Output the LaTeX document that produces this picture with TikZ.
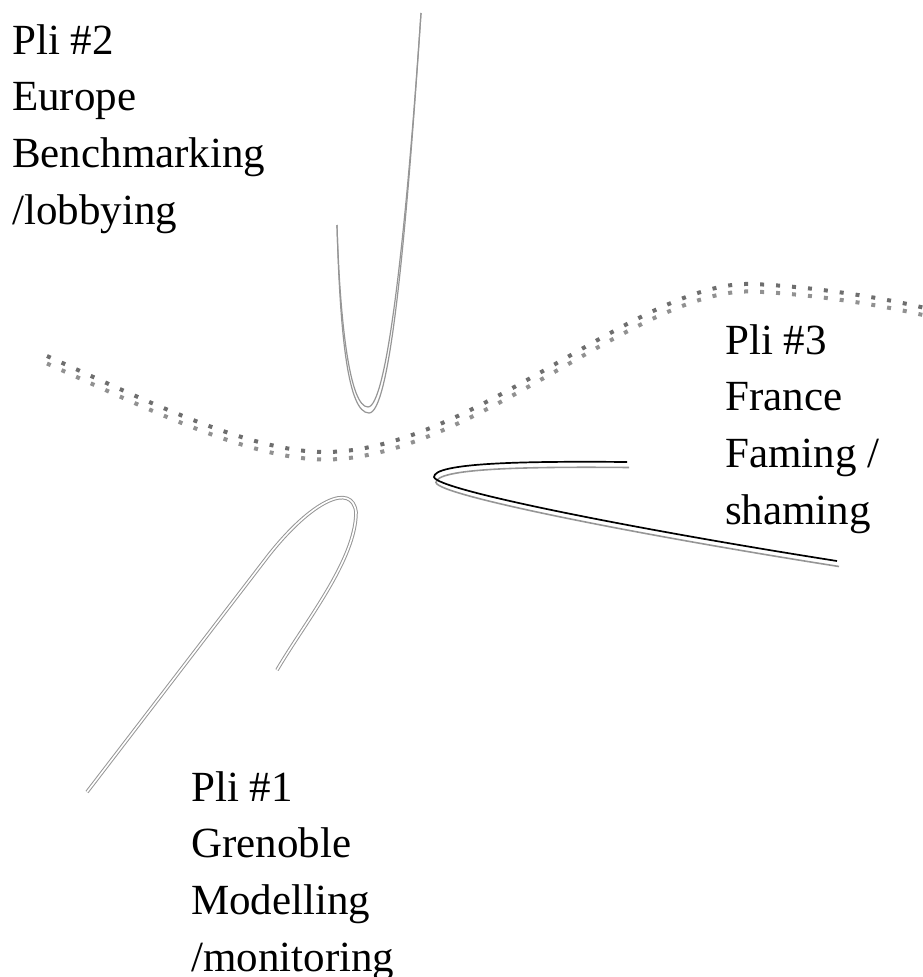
\documentclass[tikz,border=0pt]{standalone}
\usepackage{fontspec}
\setmainfont{Liberation Serif}
\usetikzlibrary{positioning}
\definecolor{foldgray}{RGB}{150,150,150}
\definecolor{wavedark}{RGB}{110,110,110}
\definecolor{wavelight}{RGB}{145,145,145}
\tikzset{
    plilabel/.style={anchor=north west, inner sep=0pt, align=left, font=\fontsize{43}{56.7}\selectfont},
    fold/.style={draw=foldgray, line width=1.2pt},
    folddouble/.style={draw=foldgray, double=white, double distance=1.6pt, line width=1pt},
    foldblack/.style={draw=black, line width=1.7pt},
    wave/.style={line width=4pt, dash pattern=on 4pt off 12pt}
}
\begin{document}
\begin{tikzpicture}[x=1pt, y=-1pt]
\useasboundingbox (0,0) rectangle (923,977);

\node[plilabel] (pli2) at (12,24) {Pli \#2\\Europe\\Benchmarking\\/lobbying};
\node[plilabel] (pli3) at (725,324) {Pli \#3\\France\\Faming /\\shaming};
\node[plilabel] (pli1) at (191,771) {Pli \#1\\Grenoble\\Modelling\\/monitoring};

% dotted wave
\draw[wave, wavedark] (47,356) .. controls (147,401) and (250,452) .. (325,452)
    .. controls (470,452) and (640,280) .. (752,284) .. controls (805,286) and (875,296) .. (925,308);
\draw[wave, wavelight, yshift=-7.5pt] (47,356) .. controls (147,401) and (250,452) .. (325,452)
    .. controls (470,452) and (640,280) .. (752,284) .. controls (805,286) and (875,296) .. (925,308);

% Pli 2
\draw[fold] (337,225) .. controls (340,325) and (350,407) .. (368,407) .. controls (386,407) and (405,250) .. (421,13);
\draw[fold] (337,225) .. controls (340,335) and (348,413) .. (369,413) .. controls (389,413) and (405,255) .. (421,13);

% Pli 3
\draw[fold, line width=1.6pt, xshift=2pt, yshift=-5.5pt] (627,462) .. controls (520,461) and (434,463) .. (434,477)
    .. controls (436,490) and (640,530) .. (837,561);
\draw[foldblack] (627,462) .. controls (520,461) and (434,463) .. (434,477)
    .. controls (436,490) and (640,530) .. (837,561);

% Pli 1
\draw[folddouble] (87,792) -- (268,556) .. controls (312,500) and (352,482) .. (356,512)
    .. controls (356,560) and (305,622) .. (277,670);
\end{tikzpicture}
\end{document}
